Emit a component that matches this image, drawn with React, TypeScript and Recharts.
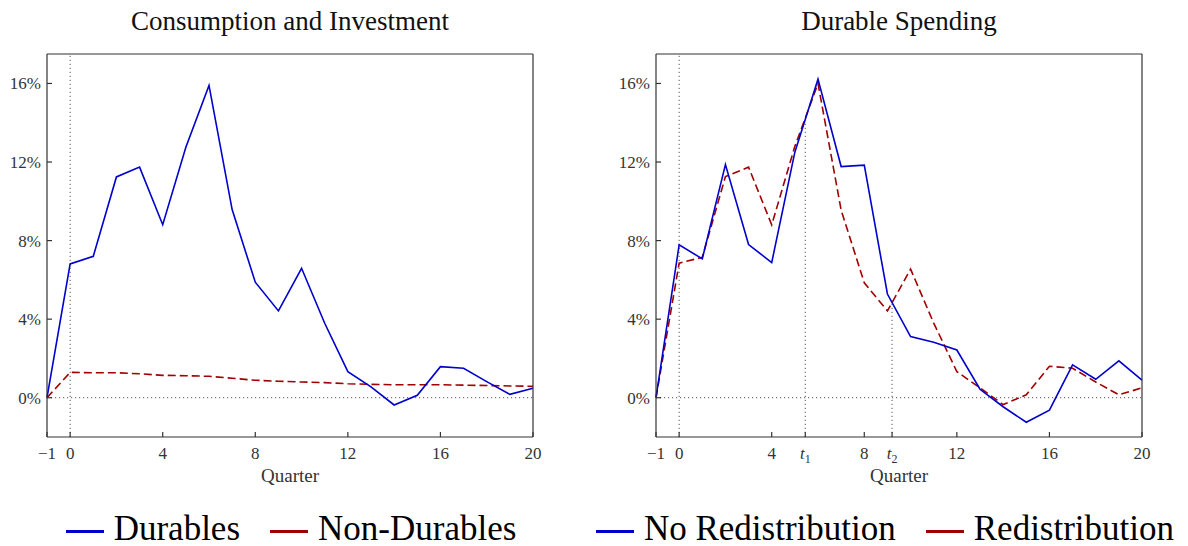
import { Line, LineChart, ReferenceLine, XAxis, YAxis } from 'recharts'

const FONT = '"Liberation Serif", "DejaVu Serif", serif'
const AXIS = '#333333'
const BLUE = '#0000CC'
const RED = '#A00000'

// quarters after the shock
const quarters = [-1, 0, 1, 2, 3, 4, 5, 6, 7, 8, 9, 10, 11, 12, 13, 14, 15, 16, 17, 18, 19, 20]

// left panel (percent)
const durables = [0, 6.81, 7.2, 11.24, 11.74, 8.81, 12.75, 15.9, 9.58, 5.88, 4.42, 6.59, 3.79, 1.33, 0.55, -0.37, 0.12, 1.58, 1.5, 0.82, 0.17, 0.48]
const nonDurables = [0, 1.29, 1.27, 1.27, 1.22, 1.14, 1.12, 1.09, 0.99, 0.89, 0.84, 0.8, 0.77, 0.71, 0.68, 0.66, 0.66, 0.66, 0.64, 0.62, 0.6, 0.58]

// right panel (percent)
const noRedistribution = [0, 7.78, 7.07, 11.87, 7.8, 6.88, 12.5, 16.22, 11.77, 11.84, 5.28, 3.11, 2.82, 2.43, 0.43, -0.46, -1.25, -0.63, 1.67, 0.94, 1.88, 0.9]
const redistribution = [0, 6.85, 7.15, 11.26, 11.74, 8.8, 12.8, 16.0, 9.55, 5.85, 4.42, 6.55, 3.8, 1.33, 0.5, -0.35, 0.15, 1.6, 1.5, 0.8, 0.15, 0.5]

// marked quarters t1, t2 and where the dotted markers stop
const T1 = 5.45
const T2 = 9.2
const t1Top = 14.1
const t2Top = 4.85

const xTicksLeft = [-1, 0, 4, 8, 12, 16, 20]
const xTicksRight = [-1, 0, 4, T1, 8, T2, 12, 16, 20]
const yTicks = [0, 4, 8, 12, 16]
const yDomain = [-2, 17.5]

const leftData = quarters.map((q, i) => ({ q, durables: durables[i], nonDurables: nonDurables[i] }))
const rightData = quarters.map((q, i) => ({ q, noRedistribution: noRedistribution[i], redistribution: redistribution[i] }))

type Serie = { key: string, name: string, color: string, dash?: string }

const leftSeries: Serie[] = [
  { key: 'durables', name: 'Durables', color: BLUE },
  { key: 'nonDurables', name: 'Non-Durables', color: RED, dash: '8 4' }
]
const rightSeries: Serie[] = [
  { key: 'noRedistribution', name: 'No Redistribution', color: BLUE },
  { key: 'redistribution', name: 'Redistribution', color: RED, dash: '8 4' }
]

function XTick (props: any) {
  const { x, y, payload } = props
  const v = payload.value
  const style = { fontFamily: FONT, fontSize: 17, fill: AXIS }
  if (Math.abs(v - T1) < 0.01 || Math.abs(v - T2) < 0.01) {
    const sub = Math.abs(v - T1) < 0.01 ? '1' : '2'
    return (
      <text x={x} y={y} dy='0.71em' textAnchor='middle' style={style}>
        <tspan fontStyle='italic'>t</tspan>
        <tspan fontSize={12} dy={4}>{sub}</tspan>
      </text>
    )
  }
  const label = v < 0 ? '\u2212' + Math.abs(v) : String(v)
  return (
    <text x={x} y={y} dy='0.71em' textAnchor='middle' style={style}>{label}</text>
  )
}

function Panel ({ title, data, series, xTicks, yWidth, right, markers }: {
  title: string, data: any[], series: Serie[], xTicks: number[], yWidth: number, right: number, markers: boolean
}) {
  const plotW = 594 - yWidth - right
  return (
    <div style={{ position: 'relative', width: 594, height: 546 }}>
      <div style={{ position: 'absolute', top: 6, left: yWidth, width: plotW, textAlign: 'center', fontFamily: FONT, fontSize: 27, lineHeight: '30px', color: '#111' }}>
        {title}
      </div>
      {/* top axis and right axis are 1px so they still get drawn (box frame) */}
      <LineChart width={594} height={546} data={data} margin={{ top: 53, right: right - 1, bottom: 64, left: 0 }}>
        <XAxis
          dataKey='q' type='number' domain={[-1, 20]} ticks={xTicks} interval={0}
          height={45} tickSize={-5} tickMargin={15} tick={<XTick />}
          stroke={AXIS} strokeWidth={1.2}
          label={{ value: 'Quarter', position: 'insideBottom', offset: 0, style: { fontFamily: FONT, fontSize: 19, fill: AXIS } }}
        />
        <XAxis xAxisId='top' orientation='top' dataKey='q' type='number' domain={[-1, 20]} ticks={xTicks} interval={0}
          height={1} tickSize={-5} tick={false} stroke={AXIS} strokeWidth={1.2} />
        <YAxis
          type='number' domain={yDomain} ticks={yTicks} interval={0} width={yWidth}
          tickSize={-5} tickMargin={11} stroke={AXIS} strokeWidth={1.2}
          tickFormatter={(v: number) => `${v}%`}
          tick={{ fontFamily: FONT, fontSize: 17, fill: AXIS }}
        />
        <YAxis yAxisId='right' orientation='right' type='number' domain={yDomain} ticks={yTicks} interval={0}
          width={1} tickSize={-5} tick={false} stroke={AXIS} strokeWidth={1.2} />
        <ReferenceLine y={0} stroke='#555' strokeDasharray='1.2 2.8' />
        <ReferenceLine x={0} stroke='#555' strokeDasharray='1.2 2.8' />
        {markers && <ReferenceLine segment={[{ x: T1, y: -2 }, { x: T1, y: t1Top }]} stroke='#555' strokeDasharray='1.2 2.8' />}
        {markers && <ReferenceLine segment={[{ x: T2, y: -2 }, { x: T2, y: t2Top }]} stroke='#555' strokeDasharray='1.2 2.8' />}
        {series.slice().reverse().map(s => (
          <Line key={s.key} type='linear' dataKey={s.key} name={s.name} stroke={s.color} strokeWidth={1.6}
            strokeDasharray={s.dash} dot={false} isAnimationActive={false} />
        ))}
      </LineChart>
      <div style={{ position: 'absolute', top: 509, left: 0, width: 582, display: 'flex', justifyContent: 'center', alignItems: 'center', fontFamily: FONT, fontSize: 35, lineHeight: '40px', color: '#000' }}>
        {series.map((s, i) => (
          <div key={s.key} style={{ display: 'flex', alignItems: 'center', marginLeft: i > 0 ? 30 : 0 }}>
            <span style={{ display: 'inline-block', width: 38, height: 3, background: s.color, marginRight: 10, transform: 'translateY(2px)' }} />
            <span>{s.name}</span>
          </div>
        ))}
      </div>
    </div>
  )
}

export default function App () {
  return (
    <div style={{ position: 'absolute', left: 0, top: 0, width: 1188, height: 546, background: '#fff', display: 'flex' }}>
      <Panel title='Consumption and Investment' data={leftData} series={leftSeries} xTicks={xTicksLeft} yWidth={47} right={61} markers={false} />
      <Panel title='Durable Spending' data={rightData} series={rightSeries} xTicks={xTicksRight} yWidth={62} right={46} markers />
    </div>
  )
}
